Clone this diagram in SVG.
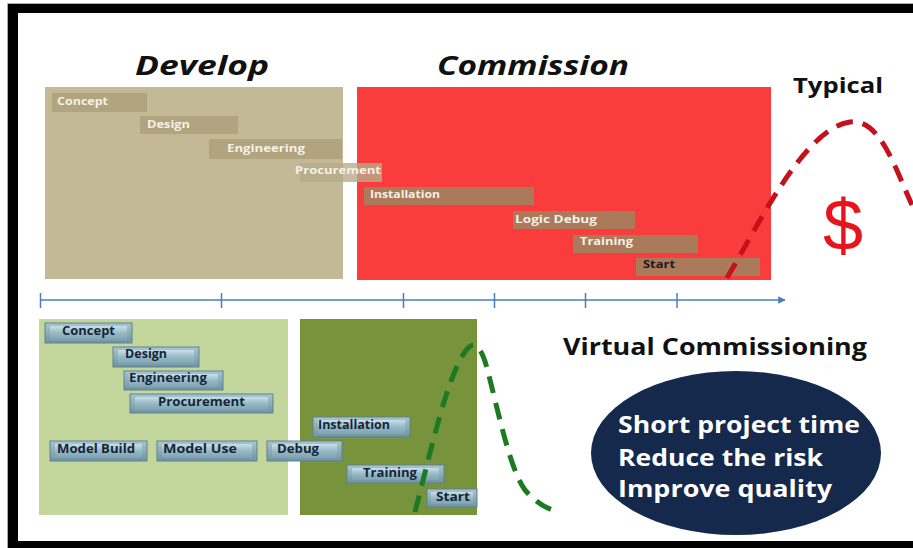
<svg xmlns="http://www.w3.org/2000/svg" width="913" height="548" viewBox="0 0 913 548">
  <style>
    .title { font-family: "Open Sans", "Liberation Sans", sans-serif; font-weight: bold; fill: #111; }
    .tbar { font-family: "Open Sans", "Liberation Sans", sans-serif; font-weight: bold; font-size: 11px; fill: #f5f1e8; }
    .bbar { font-family: "Open Sans", "Liberation Sans", sans-serif; font-weight: bold; font-size: 11.5px; fill: #16263a; }
    .bev { fill: url(#btnBody); stroke: #5e8291; stroke-width: 1; }
    .bevin { fill: url(#btnFace); }
    .oval { font-family: "Open Sans", "Liberation Sans", sans-serif; font-weight: bold; font-size: 23px; fill: #ffffff; }
    .tick { stroke: #4a7ebb; stroke-width: 1.5; }
  </style>
  <defs>
    <linearGradient id="btnBody" x1="0" y1="0" x2="0" y2="1">
      <stop offset="0" stop-color="#a9c6d1"/>
      <stop offset="1" stop-color="#6f93a2"/>
    </linearGradient>
    <linearGradient id="btnFace" x1="0" y1="0" x2="0" y2="1">
      <stop offset="0" stop-color="#c9e0e8"/>
      <stop offset="0.5" stop-color="#97b9c6"/>
      <stop offset="1" stop-color="#7fa3b2"/>
    </linearGradient>
    <marker id="arrow" viewBox="0 0 10 10" refX="9" refY="5" markerWidth="5" markerHeight="5" orient="auto">
      <path d="M0,0 L10,5 L0,10 z" fill="#4a7ebb"/>
    </marker>
  </defs>

  <!-- background and frame -->
  <rect x="0" y="0" width="913" height="548" fill="#ffffff"/>
  <path d="M8,4 H913 V13 H18 V541 H913 V548 H8 Z" fill="#000000"/>
  <path d="M7.5,548 V3.5 H913" fill="none" stroke="#aaaaaa" stroke-width="1"/>

  <!-- headings -->
  <text class="title" x="135" y="75" font-size="27" font-style="italic" textLength="134" lengthAdjust="spacingAndGlyphs">Develop</text>
  <text class="title" x="437" y="75" font-size="27" font-style="italic" textLength="192" lengthAdjust="spacingAndGlyphs">Commission</text>
  <text class="title" x="793" y="93" font-size="22" textLength="90" lengthAdjust="spacingAndGlyphs">Typical</text>
  <text class="title" x="563" y="355" font-size="24" textLength="304" lengthAdjust="spacingAndGlyphs">Virtual Commissioning</text>

  <!-- typical schedule -->
  <g id="develop-typical">
    <rect x="45" y="87" width="298" height="192" fill="#c4b996"/>
    <rect x="52" y="93" width="95" height="19" fill="#b1a47e"/>
    <text class="tbar" x="57" y="105" textLength="51" lengthAdjust="spacingAndGlyphs">Concept</text>
    <rect x="140" y="116" width="98" height="18" fill="#b1a47e"/>
    <text class="tbar" x="147" y="128" textLength="43" lengthAdjust="spacingAndGlyphs">Design</text>
    <rect x="209" y="139" width="133" height="20" fill="#b1a47e"/>
    <text class="tbar" x="227" y="152" textLength="78" lengthAdjust="spacingAndGlyphs">Engineering</text>
  </g>
  <g id="commission-typical">
    <rect x="357" y="87" width="414" height="193" fill="#fa3c3c"/>
    <rect x="364" y="187" width="170" height="18" fill="#aa7a5b"/>
    <text class="tbar" x="370" y="198" textLength="70" lengthAdjust="spacingAndGlyphs">Installation</text>
    <rect x="513" y="211" width="122" height="18" fill="#aa7a5b"/>
    <text class="tbar" x="515" y="223" textLength="82" lengthAdjust="spacingAndGlyphs">Logic Debug</text>
    <rect x="573" y="235" width="125" height="18" fill="#aa7a5b"/>
    <text class="tbar" x="580" y="245" textLength="53" lengthAdjust="spacingAndGlyphs">Training</text>
    <rect x="636" y="258" width="124" height="18" fill="#aa7a5b"/>
    <text class="tbar" x="643" y="268" textLength="32" lengthAdjust="spacingAndGlyphs" style="fill:#1a1a1a">Start</text>
  </g>
  <g id="procurement-typical">
    <rect x="300" y="163" width="82" height="19" fill="#b6ab8a" opacity="0.8"/>
    <text class="tbar" x="295" y="174" textLength="86" lengthAdjust="spacingAndGlyphs">Procurement</text>
  </g>

  <!-- cost curve, typical -->
  <g id="cost-typical">
    <path d="M727,278 C760,222 805,128 850,122 C880,118 895,168 912,205" fill="none" stroke="#c4121c" stroke-width="5" stroke-dasharray="17,10"/>
    <text x="843" y="250" text-anchor="middle" font-family="Liberation Sans, Arial, sans-serif" font-size="72" fill="#e8141c">$</text>
  </g>

  <!-- time axis -->
  <g id="connectors">
    <line x1="40" y1="300" x2="785" y2="300" stroke="#4a7ebb" stroke-width="1.5" marker-end="url(#arrow)"/>
    <line class="tick" x1="40.5" y1="293" x2="40.5" y2="308"/>
    <line class="tick" x1="221.5" y1="293" x2="221.5" y2="308"/>
    <line class="tick" x1="403.5" y1="293" x2="403.5" y2="308"/>
    <line class="tick" x1="494.5" y1="293" x2="494.5" y2="308"/>
    <line class="tick" x1="585.5" y1="293" x2="585.5" y2="308"/>
    <line class="tick" x1="677" y1="293" x2="677" y2="308"/>
  </g>

  <!-- virtual commissioning schedule -->
  <g id="develop-virtual">
    <rect x="39" y="319" width="249" height="196" fill="#c3d69b"/>
  </g>
  <g id="commission-virtual">
    <rect x="300" y="319" width="177" height="196" fill="#77933c"/>
  </g>

  <g id="task-concept">
    <rect class="bev" x="45" y="323" width="87" height="20"/>
    <rect class="bevin" x="50" y="326" width="77" height="14"/>
    <text class="bbar" x="62" y="335" textLength="53" lengthAdjust="spacingAndGlyphs">Concept</text>
  </g>
  <g id="task-design">
    <rect class="bev" x="113" y="347" width="86" height="20"/>
    <rect class="bevin" x="118" y="350" width="76" height="14"/>
    <text class="bbar" x="125" y="358" textLength="42" lengthAdjust="spacingAndGlyphs">Design</text>
  </g>
  <g id="task-engineering">
    <rect class="bev" x="124" y="371" width="99" height="19"/>
    <rect class="bevin" x="129" y="374" width="89" height="13"/>
    <text class="bbar" x="129" y="382" textLength="78" lengthAdjust="spacingAndGlyphs">Engineering</text>
  </g>
  <g id="task-procurement">
    <rect class="bev" x="130" y="394" width="143" height="19"/>
    <rect class="bevin" x="135" y="397" width="133" height="13"/>
    <text class="bbar" x="158" y="406" textLength="87" lengthAdjust="spacingAndGlyphs">Procurement</text>
  </g>
  <g id="task-installation">
    <rect class="bev" x="313" y="417" width="97" height="20"/>
    <rect class="bevin" x="318" y="420" width="87" height="14"/>
    <text class="bbar" x="318" y="429" textLength="72" lengthAdjust="spacingAndGlyphs">Installation</text>
  </g>
  <g id="task-model-build">
    <rect class="bev" x="50" y="441" width="97" height="20"/>
    <rect class="bevin" x="55" y="444" width="87" height="14"/>
    <text class="bbar" x="57" y="453" textLength="78" lengthAdjust="spacingAndGlyphs">Model Build</text>
  </g>
  <g id="task-model-use">
    <rect class="bev" x="157" y="441" width="100" height="20"/>
    <rect class="bevin" x="162" y="444" width="90" height="14"/>
    <text class="bbar" x="163" y="453" textLength="74" lengthAdjust="spacingAndGlyphs">Model Use</text>
  </g>
  <g id="task-debug">
    <rect class="bev" x="267" y="441" width="75" height="20"/>
    <rect class="bevin" x="272" y="444" width="65" height="14"/>
    <text class="bbar" x="277" y="453" textLength="42" lengthAdjust="spacingAndGlyphs">Debug</text>
  </g>
  <g id="task-training">
    <rect class="bev" x="347" y="465" width="97" height="18"/>
    <rect class="bevin" x="352" y="468" width="87" height="12"/>
    <text class="bbar" x="363" y="477" textLength="54" lengthAdjust="spacingAndGlyphs">Training</text>
  </g>
  <g id="task-start">
    <rect class="bev" x="427" y="489" width="50" height="18"/>
    <rect class="bevin" x="431" y="492" width="42" height="12"/>
    <text class="bbar" x="436" y="501" textLength="34" lengthAdjust="spacingAndGlyphs">Start</text>
  </g>

  <!-- cost curve, virtual commissioning -->
  <g id="cost-virtual">
    <path d="M415,512 C430,455 448,370 468,348 C476,340 482,350 487,368 C498,410 510,470 525,490 C538,505 550,510 560,512" fill="none" stroke="#1e7a22" stroke-width="5" stroke-dasharray="17,10"/>
  </g>

  <!-- benefits -->
  <g id="benefits">
    <ellipse cx="736" cy="453" rx="145" ry="82" fill="#14294b"/>
    <text class="oval" x="618" y="433" textLength="242" lengthAdjust="spacingAndGlyphs">Short project time</text>
    <text class="oval" x="618" y="466" textLength="205" lengthAdjust="spacingAndGlyphs">Reduce the risk</text>
    <text class="oval" x="618" y="497" textLength="214" lengthAdjust="spacingAndGlyphs">Improve quality</text>
  </g>
</svg>
